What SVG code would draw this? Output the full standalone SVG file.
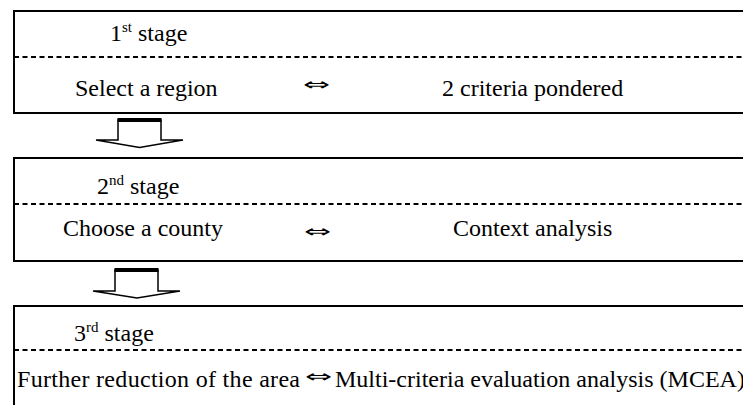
<svg xmlns="http://www.w3.org/2000/svg" width="743" height="405" viewBox="0 0 743 405">
<style>
.box{fill:#fff;stroke:#000;stroke-width:2}
.dash{stroke:#000;stroke-width:2;stroke-dasharray:5 3.5;fill:none}
.t{font-family:"Liberation Serif","Times New Roman","DejaVu Serif",serif;font-size:24px;fill:#000}
.sup{font-size:15px}
.dbl{font-family:"DejaVu Sans","Liberation Sans",sans-serif;font-size:24px;fill:#000;text-anchor:middle}
.arrow{fill:#fff;stroke:#000;stroke-width:1.5;stroke-linejoin:miter}
.bar{fill:#000}
</style>
<rect width="743" height="405" fill="#fff"/>
<g id="stage1">
<rect class="box" x="14" y="11" width="760" height="102"/>
<line class="dash" x1="14" y1="57" x2="743" y2="57"/>
<text class="t" x="110" y="41">1<tspan class="sup" dy="-9">st</tspan><tspan dy="9"> stage</tspan></text>
<text class="t" x="75" y="96">Select a region</text>
<text class="dbl" transform="translate(316.5,85) scale(1.35,0.7)" y="7.7">⇔</text>
<text class="t" x="442" y="96">2 criteria pondered</text>
</g>
<g id="stage2">
<rect class="box" x="14" y="158" width="760" height="103"/>
<line class="dash" x1="14" y1="204" x2="743" y2="204"/>
<text class="t" x="97" y="194">2<tspan class="sup" dy="-9">nd</tspan><tspan dy="9"> stage</tspan></text>
<text class="t" x="63" y="236">Choose a county</text>
<text class="dbl" transform="translate(317.5,232) scale(1.35,0.7)" y="7.7">⇔</text>
<text class="t" x="453" y="236">Context analysis</text>
</g>
<g id="stage3">
<rect class="box" x="14" y="306" width="760" height="120"/>
<line class="dash" x1="14" y1="350" x2="743" y2="350"/>
<text class="t" x="74" y="341">3<tspan class="sup" dy="-9">rd</tspan><tspan dy="9"> stage</tspan></text>
<text class="t" x="17" y="387" textLength="283" lengthAdjust="spacing">Further reduction of the area</text>
<text class="dbl" transform="translate(318.5,377) scale(1.35,0.7)" y="7.7">⇔</text>
<text class="t" x="335" y="387">Multi-criteria evaluation analysis (MCEA)</text>
</g>
<g id="connectors">
<polygon class="arrow" points="118,120 161,120 161,140 183,140 139.5,147.5 96,140 118,140"/>
<rect class="bar" x="117.5" y="118" width="44" height="4"/>
<polygon class="arrow" points="115,270 158,270 158,291 180,291 137,298 93,291 115,291"/>
<rect class="bar" x="114.5" y="268" width="44" height="4"/>
</g>
</svg>
